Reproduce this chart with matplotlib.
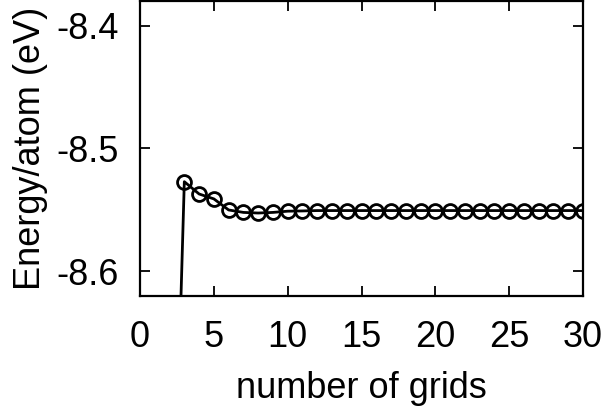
import numpy as np
import matplotlib
matplotlib.use('Agg')
import matplotlib.pyplot as plt

# data
grids = [2, 3, 4, 5, 6, 7, 8, 9, 10, 11, 12, 13, 14, 15, 16, 17, 18, 19, 20,
         21, 22, 23, 24, 25, 26, 27, 28, 29, 30]
energy = [-8.94, -8.527, -8.537, -8.541, -8.550, -8.552, -8.5525, -8.552, -8.551,
          -8.5508, -8.5505, -8.5505, -8.5505, -8.5505, -8.5505, -8.5505, -8.5505,
          -8.5505, -8.5505, -8.5505, -8.5505, -8.5505, -8.5505, -8.5505, -8.5505,
          -8.5505, -8.5505, -8.5505, -8.5505]
xticks = [0, 5, 10, 15, 20, 25, 30]
yticks = [-8.6, -8.5, -8.4]

plt.rcParams['font.family'] = ['Liberation Sans', 'DejaVu Sans']
plt.rcParams['font.size'] = 26

fig = plt.figure(figsize=(6.08, 4.11), dpi=100)
ax = fig.add_axes([0.2303, 0.2798, 0.7286, 0.7178])

ax.plot(grids, energy, color='black', lw=2.0, marker='o', markersize=10,
        markerfacecolor='none', markeredgewidth=2.0, markeredgecolor='black',
        clip_on=True)

ax.set_xlim(0, 30)
ax.set_ylim(-8.62, -8.38)
ax.set_xticks(xticks)
ax.set_yticks(yticks)
ax.set_yticklabels(['%.1f' % v for v in yticks])
ax.tick_params(direction='in', top=True, right=True, length=7.5, width=1.3)
ax.tick_params(axis='x', pad=17)
ax.tick_params(axis='y', pad=15)
for s in ax.spines.values():
    s.set_linewidth(1.6)

ax.set_xlabel('number of grids', labelpad=12)
ax.set_ylabel('Energy/atom (eV)', labelpad=6)

fig.savefig('out.png', dpi=100)
